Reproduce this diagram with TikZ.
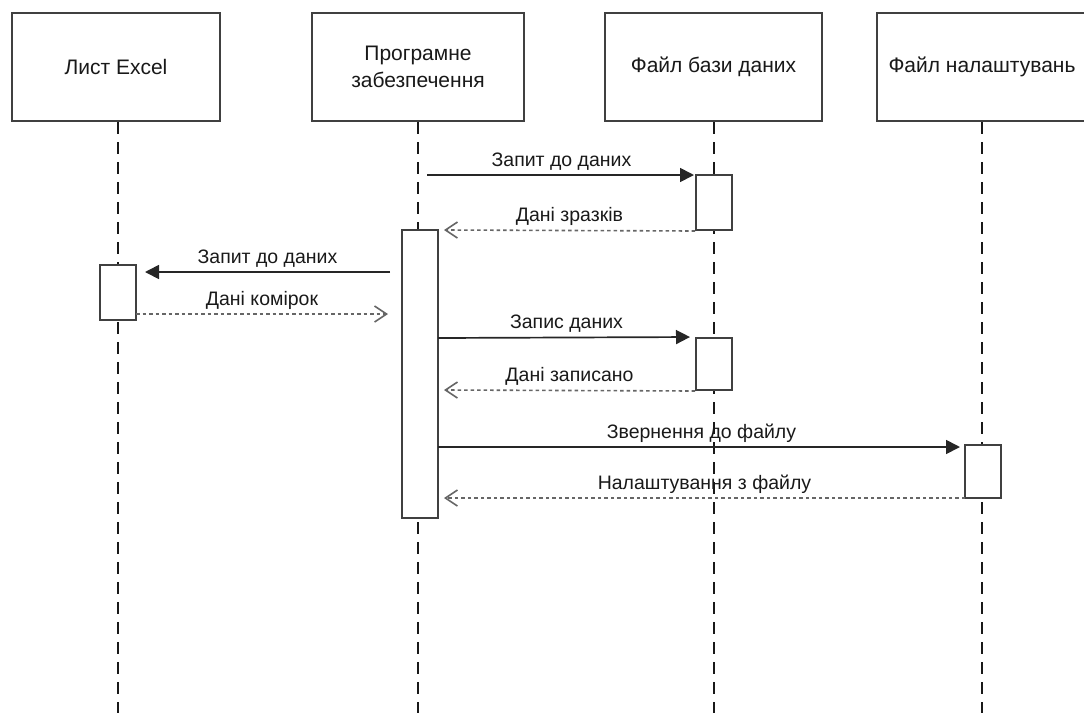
\documentclass[tikz,border=0pt]{standalone}
\usepackage{fontspec}
\setmainfont{Liberation Sans}
\usetikzlibrary{arrows.meta}
\begin{document}
\begin{tikzpicture}[x=1pt,y=-1pt,
  head/.style={draw=black!75, line width=2pt, fill=white, minimum width=208pt,
    minimum height=108pt, inner sep=0pt, align=center, text=black!90,
    font=\fontsize{21}{27}\selectfont},
  life/.style={line width=2.8pt, black!90, dash pattern=on 12pt off 8pt},
  act/.style={draw=black!75, line width=2pt, fill=white, minimum width=36pt, inner sep=0pt},
  call/.style={line width=1.7pt, black!85, -{Triangle[length=14pt,width=14pt]}},
  reply/.style={line width=1.6pt, black!60, dash pattern=on 3.5pt off 3pt,
    -{Straight Barb[length=12pt,width=16pt]}},
  lbl/.style={font=\fontsize{19.5}{23}\selectfont, text=black!90, above, inner sep=4pt},
]
\useasboundingbox (0,0) rectangle (1084,713);

% participants
\node[head] (xl)  at (116,67) {Лист Excel};
\node[head, minimum width=212pt] (sw)  at (418,67) {Програмне\\забезпечення};
\node[head, minimum width=217pt] (db)  at (713.5,67) {Файл бази даних};
\node[head, minimum width=210pt] (cfg) at (982,67) {Файл налаштувань};

% lifelines
\coordinate (xlend)  at (118,713);
\coordinate (swend)  at (418,713);
\coordinate (dbend)  at (714,713);
\coordinate (cfgend) at (982,713);
\draw[life] (xl.south -| xlend) -- (xlend);
\draw[life] (sw.south) -- (swend);
\draw[life] (db.south -| dbend) -- (dbend);
\draw[life] (cfg.south) -- (cfgend);

% activations
\node[act, minimum height=55pt]  (dba1) at (714,202.5) {};
\node[act, minimum height=288pt] (swa)  at (420,374) {};
\node[act, minimum height=55pt]  (xla)  at (118,292.5) {};
\node[act, minimum height=52pt]  (dba2) at (714,364) {};
\node[act, minimum height=53pt]  (cfga) at (983,471.5) {};

% message end points
\coordinate (m1s) at (427,175);
\coordinate (m1e) at (696,175);
\coordinate (m2e) at (444,230);
\coordinate (m3s) at (390,272);
\coordinate (m3e) at (145,272);
\coordinate (m4s) at (136,314);
\coordinate (m4e) at (388,314);
\coordinate (m5s) at (438,338);
\coordinate (m6e) at (444,390);
\coordinate (m7s) at (438,447);
\coordinate (m7e) at (965,447);
\coordinate (m8s) at (965,498);
\coordinate (m8e) at (444,498);

% messages
\draw[call, shorten >=2pt] (m1s) -- node[lbl] {Запит до даних} (m1e);
\draw[reply] (dba1.south west) -- node[lbl] {Дані зразків} (m2e);
\draw[call] (m3s) -- node[lbl] {Запит до даних} (m3e);
\draw[reply] (m4s) -- node[lbl] {Дані комірок} (m4e);
\draw[call, shorten >=5pt] (m5s) -- node[lbl] {Запис даних} (dba2.north west);
\draw[reply] (dba2.south west) -- node[lbl] {Дані записано} (m6e);
\draw[call, shorten >=5pt] (m7s) -- node[lbl] {Звернення до файлу} (m7e);
\draw[reply] (m8s) -- node[lbl] {Налаштування з файлу} (m8e);
\end{tikzpicture}
\end{document}
